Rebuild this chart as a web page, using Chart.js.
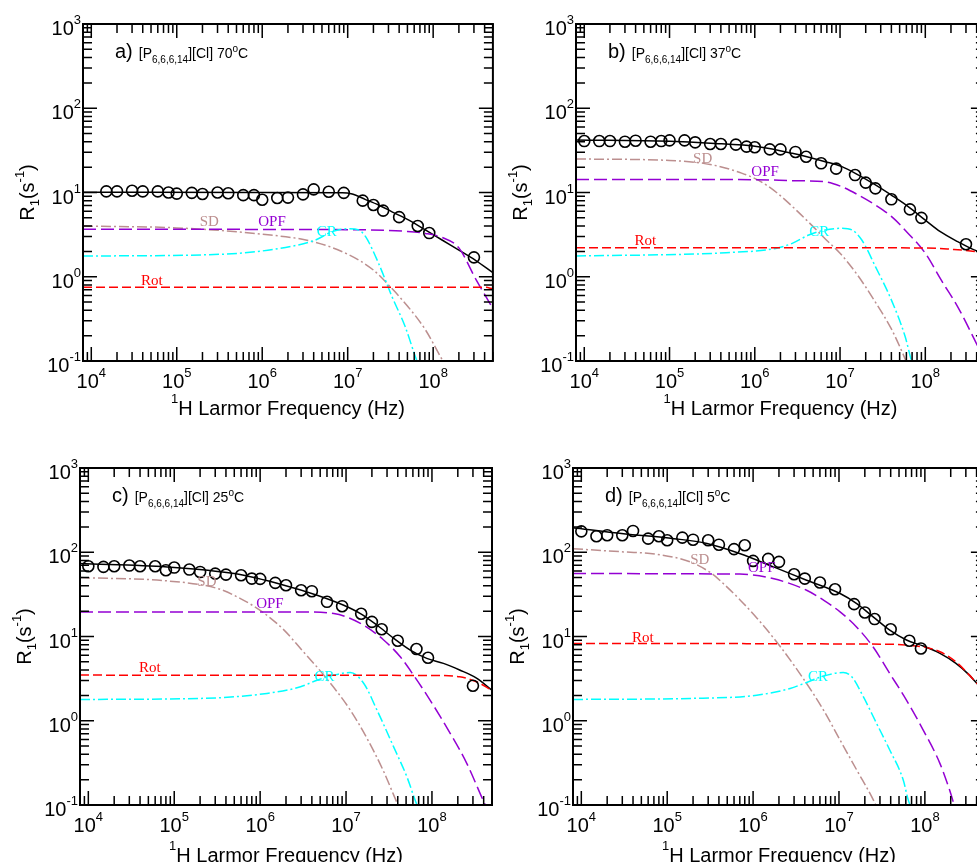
<!DOCTYPE html>
<html>
<head>
<meta charset="utf-8">
<script src="https://cdn.jsdelivr.net/npm/chart.js@4.4.1/dist/chart.umd.min.js"></script>
<style>
  html, body { margin: 0; padding: 0; background: #fff; overflow: hidden; }
  body { width: 977px; height: 862px; position: relative; }
  canvas { position: absolute; }
</style>
</head>
<body>
<canvas id="panelA" width="500" height="430" style="left:0;top:0"></canvas>
<canvas id="panelB" width="500" height="430" style="left:492px;top:0"></canvas>
<canvas id="panelC" width="500" height="432" style="left:0;top:430px"></canvas>
<canvas id="panelD" width="500" height="432" style="left:492px;top:430px"></canvas>
<script>
// Larmor frequencies (Hz) of the relaxometry points
const freqs = [1e4, 1.5e4, 2e4, 3e4, 4e4, 6e4, 8e4, 1e5, 1.5e5, 2e5, 3e5, 4e5, 6e5, 8e5,
  1e6, 1.5e6, 2e6, 3e6, 4e6, 6e6, 9e6, 1.5e7, 2e7, 2.6e7, 4e7, 6.6e7, 9e7, 3e8];

// Measured R1 (s^-1) at each temperature
const r1_70 = [null, 10.3, 10.3, 10.5, 10.3, 10.3, 10.0, 9.7, 9.9, 9.6, 10.0, 9.8, 9.3, 9.3,
  8.2, 8.6, 8.7, 9.5, 10.9, 10.2, 9.9, 8.0, 7.1, 6.1, 5.1, 4.0, 3.3, 1.7];
const r1_37 = [40.8, 40.8, 40.8, 40.1, 41.2, 40.1, 40.8, 41.6, 41.6, 39.4, 37.6, 37.6, 37.0, 35.0,
  34.4, 32.5, 32.5, 30.3, 26.6, 22.2, 19.2, 16.1, 13.1, 11.2, 8.3, 6.3, 5.0, 2.43];
const r1_25 = [68.2, 67.0, 68.2, 69.5, 68.2, 68.2, 61.2, 65.8, 62.3, 58.4, 55.8, 54.3, 53.4, 48.7,
  48.3, 43.3, 40.6, 35.4, 34.5, 25.8, 22.9, 18.6, 14.9, 12.2, 8.9, 7.1, 5.6, 2.6];
const r1_5 = [177, 155, 159, 159, 179, 145, 155, 139, 149, 141, 139, 123, 109, 121,
  78.9, 83.4, 76.8, 54.8, 48.7, 43.7, 36.4, 24.2, 19.3, 16.1, 12.2, 8.9, 7.2, null];

// Model contributions, [frequency, R1] pairs
const fit70 = [[8e3, 10.1], [1e6, 10.0], [8.6e6, 9.95], [1.13e7, 9.6], [1.6e7, 8.3], [2.3e7, 7.1], [3.3e7, 5.9],
  [5.2e7, 4.7], [8.1e7, 3.6], [1.27e8, 2.73], [2e8, 2.07], [3.1e8, 1.58], [5e8, 1.12]];
const sd70 = [[8e3, 4.0], [1e5, 3.8], [1e6, 3.2], [4e6, 2.6], [1e7, 1.85], [2e7, 1.2], [3e7, 0.8], [5e7, 0.45],
  [8e7, 0.24], [1.3e8, 0.1], [1.6e8, 0.07]];
const opf70 = [[8e3, 3.66], [1e7, 3.62], [5e7, 3.45], [8.1e7, 3.27], [1.3e8, 2.9], [2e8, 2.2], [3.2e8, 0.91], [5e8, 0.42]];
const cr70 = [[8e3, 1.76], [3.8e5, 1.86], [2.3e6, 2.32], [4.2e6, 2.73], [6.6e6, 3.43], [1.04e7, 3.72], [1.35e7, 3.59],
  [1.62e7, 2.99], [2.3e7, 1.44], [3.3e7, 0.58], [4.7e7, 0.256], [6.2e7, 0.112], [7e7, 0.08]];
const rot70 = [[8e3, 0.75], [4e8, 0.75], [5e8, 0.72]];

const fit37 = [[8e3, 42], [1e5, 40.5], [3e5, 38.5], [1.1e6, 35], [2.75e6, 29.2], [6.7e6, 23.2], [1.05e7, 20.3],
  [1.65e7, 16.1], [2.6e7, 12.3], [4e7, 9.3], [6.3e7, 6.8], [1e8, 4.7], [1.5e8, 3.43], [2.4e8, 2.61], [3.8e8, 2.07], [5e8, 1.9]];
const sd37 = [[8e3, 25], [1e5, 24], [3e5, 21.5], [7e5, 17], [1.1e6, 14], [1.8e6, 10], [3e6, 6.3], [5e6, 3.8], [7e6, 2.7],
  [1e7, 1.9], [1.6e7, 1.05], [2.5e7, 0.53], [4e7, 0.24], [5.5e7, 0.12], [6.2e7, 0.09]];
const opf37 = [[8e3, 14.3], [1e6, 14.2], [3e6, 13.8], [6.7e6, 13.4], [1.05e7, 11.7], [1.65e7, 9.3], [2.6e7, 7.1], [4e7, 5.2],
  [6.3e7, 3.27], [1e8, 1.9], [1.54e8, 0.91], [2.4e8, 0.44], [3.8e8, 0.177], [5e8, 0.1]];
const cr37 = [[8e3, 1.76], [4.6e5, 1.93], [1.76e6, 2.17], [2.75e6, 2.49], [4.3e6, 3.13], [6.7e6, 3.59], [1.05e7, 3.76],
  [1.38e7, 3.59], [1.8e7, 2.73], [2.6e7, 1.32], [4e7, 0.53], [5.8e7, 0.195], [6.9e7, 0.1], [7.5e7, 0.08]];
const rot37 = [[8e3, 2.21], [1e8, 2.2], [2e8, 2.12], [3.8e8, 2.0], [5e8, 1.9]];

const fit25 = [[8e3, 73.5], [8.3e4, 67], [5e5, 55.8], [1.9e6, 40.6], [4.6e6, 30.9], [9.4e6, 23.5], [1.47e7, 18.7],
  [2.3e7, 13.6], [3.6e7, 9.5], [5.6e7, 6.9], [8.7e7, 5.5], [1.36e8, 4.8], [2.1e8, 4.0], [3.3e8, 3.2], [5e8, 2.3]];
const sd25 = [[8e3, 50], [8.3e4, 45.7], [3.2e5, 37.1], [5.9e5, 28.2], [1.06e6, 19.6], [1.9e6, 11.9], [2.95e6, 7.2],
  [5.75e6, 3.3], [1.12e7, 1.34], [1.75e7, 0.62], [2.74e7, 0.25], [3.6e7, 0.13], [4.2e7, 0.09]];
const opf25 = [[8e3, 19.6], [3e6, 19.6], [7.2e6, 18.7], [1.47e7, 14.3], [2.74e7, 9.1], [4.3e7, 5.7], [6.1e7, 3.48],
  [9.5e7, 1.76], [1.63e8, 0.71], [2.55e8, 0.31], [4e8, 0.11], [4.5e8, 0.085]];
const cr25 = [[8e3, 1.79], [2e5, 1.84], [1.2e6, 2.11], [2.95e6, 2.53], [4.6e6, 3.03], [7.2e6, 3.48], [1.12e7, 3.74],
  [1.61e7, 2.77], [2.29e7, 1.34], [3.58e7, 0.49], [5.1e7, 0.217], [6.7e7, 0.1], [7.5e7, 0.08]];
const rot25 = [[8e3, 3.48], [1e8, 3.45], [2.1e8, 3.33], [3.3e8, 2.9], [5e8, 2.3]];

const fit5 = [[8e3, 196], [3.1e4, 166], [1.2e5, 145], [2.9e5, 127], [7.1e5, 96], [1.73e6, 67], [4.2e6, 46.6],
  [1.03e7, 32.4], [1.61e7, 24.6], [2.5e7, 17.1], [3.9e7, 11.9], [6.1e7, 9.1], [9.6e7, 7.7], [1.5e8, 6.3],
  [2.3e8, 4.8], [3.3e8, 3.48], [4e8, 2.8], [5e8, 2.2]];
const sd5 = [[8e3, 110], [3.1e4, 101], [7.6e4, 94.6], [1.86e5, 76.7], [3.3e5, 55.8], [4.5e5, 42.5], [7.1e5, 27],
  [1.11e6, 16.5], [2.07e6, 7.6], [4.2e6, 2.77], [6.6e6, 1.34], [1.03e7, 0.59], [1.61e7, 0.26], [2.51e7, 0.115], [2.8e7, 0.09]];
const opf5 = [[8e3, 55.8], [7e5, 55], [1.7e6, 48.7], [4.2e6, 35.4], [6.6e6, 27], [1.03e7, 19.6], [1.6e7, 13],
  [2.5e7, 7.5], [3.9e7, 3.64], [6.1e7, 1.76], [9.6e7, 0.77], [1.5e8, 0.31], [2e8, 0.137], [2.2e8, 0.1], [2.4e8, 0.08]];
const cr5 = [[8e3, 1.79], [1.86e5, 1.84], [1.1e6, 2.01], [2.7e6, 2.42], [4.2e6, 2.85], [6.6e6, 3.39], [1.12e7, 3.74],
  [1.41e7, 3.32], [1.92e7, 1.93], [2.74e7, 0.93], [3.9e7, 0.45], [5.6e7, 0.198], [6.4e7, 0.115], [7e7, 0.09]];
const rot5 = [[8e3, 8.26], [3.9e7, 8.1], [6.1e7, 7.9], [9.6e7, 7.5], [1.5e8, 6.6], [2.3e8, 5.0], [3.3e8, 3.48],
  [4e8, 2.8], [5e8, 2.2]];

// Axis ranges and labelled decades
const xRange = [8e3, 5e8];
const yRange = [0.1, 1000];
const xDecades = [1e4, 1e5, 1e6, 1e7, 1e8];
const yDecades = [0.1, 1, 10, 100, 1000];

const SANS = '"Liberation Sans", Arial, Helvetica, sans-serif';
const SERIF = '"Liberation Serif", "Times New Roman", serif';
const COL = { sd: '#bc8f8f', opf: '#9400d3', cr: '#00ffff', rot: '#ff0000' };

// text made of runs with their own size and baseline shift
function runWidth(ctx, runs) {
  let w = 0;
  for (const r of runs) {
    ctx.font = r.size + 'px ' + (r.family || SANS);
    w += ctx.measureText(r.text).width + (r.gap || 0);
  }
  return w;
}
function drawRuns(ctx, runs, x, y, align) {
  const w = runWidth(ctx, runs);
  let cx = align === 'center' ? x - w / 2 : align === 'right' ? x - w : x;
  ctx.textAlign = 'left';
  ctx.textBaseline = 'alphabetic';
  for (const r of runs) {
    ctx.font = r.size + 'px ' + (r.family || SANS);
    ctx.fillStyle = r.color || '#000';
    cx += r.gap || 0;
    ctx.fillText(r.text, cx, y + (r.dy || 0));
    cx += ctx.measureText(r.text).width;
  }
}
function powerLabel(v) {
  return [{ text: '10', size: 20 }, { text: String(Math.round(Math.log10(v))), size: 13, dy: -11 }];
}

// frame, inward ticks on all sides, tick labels, titles and curve labels
const decorPlugin = {
  id: 'decor',
  afterDatasetsDraw(chart, args, opts) {
    const { ctx, chartArea: a, scales: { x, y } } = chart;
    ctx.save();

    for (const l of opts.labels) {
      ctx.font = '15px ' + SERIF;
      ctx.fillStyle = l.color;
      ctx.textAlign = 'center';
      ctx.textBaseline = 'middle';
      ctx.fillText(l.text, x.getPixelForValue(l.at[0]), y.getPixelForValue(l.at[1]));
    }

    ctx.strokeStyle = '#000';
    ctx.lineWidth = 1.5;
    ctx.beginPath();
    for (let e = -2; e <= 9; e++) {
      for (let m = 1; m <= 9; m++) {
        const v = m * Math.pow(10, e);
        const len = m === 1 ? 14 : 9;
        if (v >= x.min * 0.999 && v <= x.max * 1.001) {
          const px = x.getPixelForValue(v);
          ctx.moveTo(px, a.bottom); ctx.lineTo(px, a.bottom - len);
          ctx.moveTo(px, a.top); ctx.lineTo(px, a.top + len);
        }
        if (v >= y.min * 0.999 && v <= y.max * 1.001) {
          const py = y.getPixelForValue(v);
          ctx.moveTo(a.left, py); ctx.lineTo(a.left + len, py);
          ctx.moveTo(a.right, py); ctx.lineTo(a.right - len, py);
        }
      }
    }
    ctx.stroke();
    ctx.lineWidth = 2;
    ctx.strokeRect(a.left, a.top, a.right - a.left, a.bottom - a.top);

    for (const v of xDecades) {
      drawRuns(ctx, powerLabel(v), x.getPixelForValue(v), a.bottom + 27, 'center');
    }
    for (const v of yDecades) {
      drawRuns(ctx, powerLabel(v), a.left - 2, y.getPixelForValue(v) + 11, 'right');
    }

    const midX = (a.left + a.right) / 2;
    drawRuns(ctx, [
      { text: '1', size: 13, dy: -12 },
      { text: 'H Larmor Frequency (Hz)', size: 20 }
    ], midX, a.bottom + opts.titleGap, 'center');

    ctx.save();
    ctx.translate(a.left - 49, (a.top + a.bottom) / 2);
    ctx.rotate(-Math.PI / 2);
    drawRuns(ctx, [
      { text: 'R', size: 20 },
      { text: '1', size: 13, dy: 5 },
      { text: '(s', size: 20 },
      { text: '-1', size: 13, dy: -10 },
      { text: ')', size: 20 }
    ], 0, 0, 'center');
    ctx.restore();

    drawRuns(ctx, [
      { text: opts.tag, size: 20 },
      { text: '[P', size: 14, gap: 6 },
      { text: '6,6,6,14', size: 10, dy: 5 },
      { text: '][Cl] ' + opts.temp, size: 14 },
      { text: 'o', size: 10, dy: -6 },
      { text: 'C', size: 14 }
    ], a.left + 32, a.top + 34, 'left');

    ctx.restore();
  }
};

function curve(pairs, color, dash) {
  return {
    data: pairs.map(p => ({ x: p[0], y: p[1] })),
    borderColor: color,
    borderWidth: 1.5,
    borderDash: dash,
    pointRadius: 0,
    showLine: true,
    fill: false,
    cubicInterpolationMode: 'monotone',
    clip: 0
  };
}

function makePanel(id, cfg) {
  const measured = freqs.map((f, i) => ({ x: f, y: cfg.r1[i] })).filter(p => p.y !== null);
  new Chart(document.getElementById(id), {
    type: 'line',
    data: {
      datasets: [
        {
          data: measured,
          showLine: false,
          pointStyle: 'circle',
          pointRadius: 5.5,
          pointBorderWidth: 1.6,
          pointBorderColor: '#000',
          pointBackgroundColor: 'rgba(0,0,0,0)'
        },
        curve(cfg.rot, COL.rot, [9, 4]),
        curve(cfg.cr, COL.cr, [10, 3, 2, 3]),
        curve(cfg.opf, COL.opf, [13, 5]),
        curve(cfg.sd, COL.sd, [10, 3, 2, 3]),
        curve(cfg.fit, '#000', [])
      ]
    },
    options: {
      responsive: false,
      animation: false,
      events: [],
      layout: { padding: cfg.pad },
      scales: {
        x: { type: 'logarithmic', min: xRange[0], max: xRange[1], display: false },
        y: { type: 'logarithmic', min: yRange[0], max: yRange[1], display: false }
      },
      plugins: {
        legend: { display: false },
        tooltip: { enabled: false },
        decor: {
          tag: cfg.tag,
          temp: cfg.temp,
          titleGap: cfg.titleGap,
          labels: [
            { text: 'SD', color: COL.sd, at: cfg.lab.sd },
            { text: 'OPF', color: COL.opf, at: cfg.lab.opf },
            { text: 'CR', color: COL.cr, at: cfg.lab.cr },
            { text: 'Rot', color: COL.rot, at: cfg.lab.rot }
          ]
        }
      }
    },
    plugins: [decorPlugin]
  });
}

makePanel('panelA', {
  tag: 'a)', temp: '70', r1: r1_70, fit: fit70, sd: sd70, opf: opf70, cr: cr70, rot: rot70,
  pad: { left: 83, right: 5, top: 24, bottom: 69 }, titleGap: 54,
  lab: { sd: [2.4e5, 4.47], opf: [1.3e6, 4.47], cr: [5.7e6, 3.4], rot: [5.1e4, 0.89] }
});
makePanel('panelB', {
  tag: 'b)', temp: '37', r1: r1_37, fit: fit37, sd: sd37, opf: opf37, cr: cr37, rot: rot37,
  pad: { left: 84, right: 4, top: 24, bottom: 69 }, titleGap: 54,
  lab: { sd: [2.45e5, 24.8], opf: [1.32e6, 17.4], cr: [5.7e6, 3.37], rot: [5.2e4, 2.68] }
});
makePanel('panelC', {
  tag: 'c)', temp: '25', r1: r1_25, fit: fit25, sd: sd25, opf: opf25, cr: cr25, rot: rot25,
  pad: { left: 80, right: 8, top: 38, bottom: 57 }, titleGap: 57,
  lab: { sd: [2.4e5, 44.5], opf: [1.3e6, 24.2], cr: [5.6e6, 3.32], rot: [5.2e4, 4.17] }
});
makePanel('panelD', {
  tag: 'd)', temp: '5', r1: r1_5, fit: fit5, sd: sd5, opf: opf5, cr: cr5, rot: rot5,
  pad: { left: 81, right: 7, top: 38, bottom: 57 }, titleGap: 57,
  lab: { sd: [2.4e5, 81.8], opf: [1.26e6, 65.8], cr: [5.7e6, 3.32], rot: [5.2e4, 9.7] }
});
</script>
</body>
</html>
